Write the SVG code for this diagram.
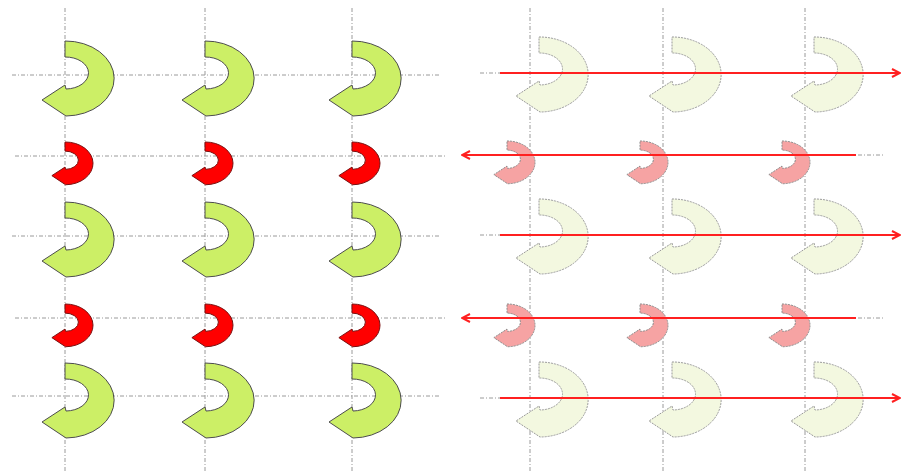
<svg xmlns="http://www.w3.org/2000/svg" xmlns:xlink="http://www.w3.org/1999/xlink" width="903" height="472" viewBox="0 0 903 472">
  <style>
    .grid { stroke: #9a9a9a; stroke-width: 1; stroke-dasharray: 4 2 1 2; fill: none; }
    .big { fill: #ccef66; stroke: #4d4d4d; stroke-width: 1; }
    .small { fill: #ff0000; stroke: #7a1010; stroke-width: 1; }
    .pale { fill: #f3f8e0; stroke: #9a9a9a; stroke-width: 1; stroke-dasharray: 2 1; }
    .pink { fill: #f6a3a3; stroke: #8c8c8c; stroke-width: 1; stroke-dasharray: 2 1; }
    .flow { stroke: #ff2020; stroke-width: 2; fill: none; }
  </style>
  <defs>
    <!-- U-turn arrow, origin at the top of the band -->
    <path id="uturn" vector-effect="non-scaling-stroke"
          d="M0,0 A48,37 0 0 1 1,75 L-23,59 L0,44 L1,48 A23,16 0 0 0 0,16 Z"/>
    <marker id="head" viewBox="0 0 10 10" refX="9" refY="5" markerWidth="5" markerHeight="5" orient="auto" markerUnits="strokeWidth">
      <path d="M1,1 L9,5 L1,9" fill="none" stroke="#ff2020" stroke-width="2"/>
    </marker>
  </defs>

  <rect width="903" height="472" fill="#ffffff"/>

  <!-- guide lines -->
  <g id="grid">
    <line class="grid" x1="65" y1="8" x2="65" y2="472"/>
    <line class="grid" x1="205" y1="8" x2="205" y2="472"/>
    <line class="grid" x1="352" y1="8" x2="352" y2="472"/>
    <line class="grid" x1="530" y1="8" x2="530" y2="472"/>
    <line class="grid" x1="663" y1="8" x2="663" y2="472"/>
    <line class="grid" x1="805" y1="8" x2="805" y2="472"/>
    <line class="grid" x1="12" y1="75" x2="440" y2="75"/>
    <line class="grid" x1="15" y1="156" x2="445" y2="156"/>
    <line class="grid" x1="12" y1="236" x2="440" y2="236"/>
    <line class="grid" x1="15" y1="318" x2="445" y2="318"/>
    <line class="grid" x1="12" y1="396" x2="440" y2="396"/>
    <line class="grid" x1="480" y1="73" x2="885" y2="73"/>
    <line class="grid" x1="480" y1="155" x2="885" y2="155"/>
    <line class="grid" x1="480" y1="235" x2="885" y2="235"/>
    <line class="grid" x1="480" y1="318" x2="885" y2="318"/>
    <line class="grid" x1="480" y1="398" x2="885" y2="398"/>
  </g>

  <!-- left block: large turns -->
  <g id="L-r1-c1"><use xlink:href="#uturn" class="big" transform="translate(65,41)"/></g>
  <g id="L-r1-c2"><use xlink:href="#uturn" class="big" transform="translate(205,41)"/></g>
  <g id="L-r1-c3"><use xlink:href="#uturn" class="big" transform="translate(352,41)"/></g>
  <g id="L-r3-c1"><use xlink:href="#uturn" class="big" transform="translate(65,202)"/></g>
  <g id="L-r3-c2"><use xlink:href="#uturn" class="big" transform="translate(205,202)"/></g>
  <g id="L-r3-c3"><use xlink:href="#uturn" class="big" transform="translate(352,202)"/></g>
  <g id="L-r5-c1"><use xlink:href="#uturn" class="big" transform="translate(65,363)"/></g>
  <g id="L-r5-c2"><use xlink:href="#uturn" class="big" transform="translate(205,363)"/></g>
  <g id="L-r5-c3"><use xlink:href="#uturn" class="big" transform="translate(352,363)"/></g>

  <!-- left block: small turns -->
  <g id="L-r2-c1"><use xlink:href="#uturn" class="small" transform="translate(65,142) scale(0.57)"/></g>
  <g id="L-r2-c2"><use xlink:href="#uturn" class="small" transform="translate(205,142) scale(0.57)"/></g>
  <g id="L-r2-c3"><use xlink:href="#uturn" class="small" transform="translate(352,142) scale(0.57)"/></g>
  <g id="L-r4-c1"><use xlink:href="#uturn" class="small" transform="translate(65,304) scale(0.57)"/></g>
  <g id="L-r4-c2"><use xlink:href="#uturn" class="small" transform="translate(205,304) scale(0.57)"/></g>
  <g id="L-r4-c3"><use xlink:href="#uturn" class="small" transform="translate(352,304) scale(0.57)"/></g>

  <!-- right block: faded large turns -->
  <g id="R-r1-c1"><use xlink:href="#uturn" class="pale" transform="translate(539,37)"/></g>
  <g id="R-r1-c2"><use xlink:href="#uturn" class="pale" transform="translate(672,37)"/></g>
  <g id="R-r1-c3"><use xlink:href="#uturn" class="pale" transform="translate(814,37)"/></g>
  <g id="R-r3-c1"><use xlink:href="#uturn" class="pale" transform="translate(539,199)"/></g>
  <g id="R-r3-c2"><use xlink:href="#uturn" class="pale" transform="translate(672,199)"/></g>
  <g id="R-r3-c3"><use xlink:href="#uturn" class="pale" transform="translate(814,199)"/></g>
  <g id="R-r5-c1"><use xlink:href="#uturn" class="pale" transform="translate(539,362)"/></g>
  <g id="R-r5-c2"><use xlink:href="#uturn" class="pale" transform="translate(672,362)"/></g>
  <g id="R-r5-c3"><use xlink:href="#uturn" class="pale" transform="translate(814,362)"/></g>

  <!-- right block: faded small turns -->
  <g id="R-r2-c1"><use xlink:href="#uturn" class="pink" transform="translate(507,141) scale(0.57)"/></g>
  <g id="R-r2-c2"><use xlink:href="#uturn" class="pink" transform="translate(640,141) scale(0.57)"/></g>
  <g id="R-r2-c3"><use xlink:href="#uturn" class="pink" transform="translate(782,141) scale(0.57)"/></g>
  <g id="R-r4-c1"><use xlink:href="#uturn" class="pink" transform="translate(507,304) scale(0.57)"/></g>
  <g id="R-r4-c2"><use xlink:href="#uturn" class="pink" transform="translate(640,304) scale(0.57)"/></g>
  <g id="R-r4-c3"><use xlink:href="#uturn" class="pink" transform="translate(782,304) scale(0.57)"/></g>

  <!-- travel direction lines -->
  <g id="connectors">
    <line class="flow" x1="500" y1="73" x2="900" y2="73" marker-end="url(#head)"/>
    <line class="flow" x1="856" y1="155" x2="462" y2="155" marker-end="url(#head)"/>
    <line class="flow" x1="500" y1="235" x2="900" y2="235" marker-end="url(#head)"/>
    <line class="flow" x1="856" y1="318" x2="462" y2="318" marker-end="url(#head)"/>
    <line class="flow" x1="500" y1="398" x2="900" y2="398" marker-end="url(#head)"/>
  </g>
</svg>
